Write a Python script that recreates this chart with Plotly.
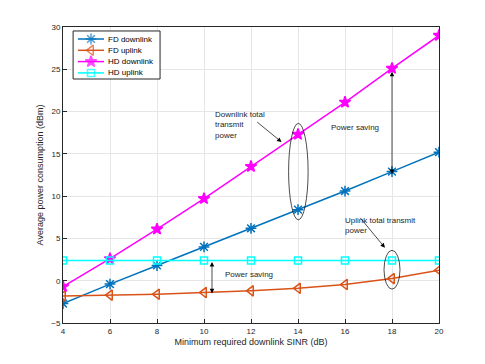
import plotly.graph_objects as go

sinr = [4, 6, 8, 10, 12, 14, 16, 18, 20]
fd_downlink = [-2.7, -0.4, 1.8, 4.0, 6.2, 8.4, 10.6, 12.9, 15.2]
fd_uplink = [-1.8, -1.7, -1.6, -1.4, -1.2, -0.9, -0.45, 0.25, 1.25]
hd_downlink = [-0.7, 2.6, 6.1, 9.7, 13.5, 17.3, 21.1, 25.1, 29.0]
hd_uplink = [2.4, 2.4, 2.4, 2.4, 2.4, 2.4, 2.4, 2.4, 2.4]

FONT = "Liberation Sans, Arial, sans-serif"
TXT = "#262626"

series = [
    ("FD downlink", fd_downlink, "#0072BD", "asterisk-open", 9),
    ("FD uplink", fd_uplink, "#D95319", "triangle-left-open", 9),
    ("HD downlink", hd_downlink, "#FF00FF", "star", 8.5),
    ("HD uplink", hd_uplink, "#00FFFF", "square-open", 7),
]

fig = go.Figure()
for name, vals, color, symbol, size in series:
    fig.add_trace(go.Scatter(
        x=sinr, y=vals, name=name, mode="lines+markers", showlegend=False,
        line=dict(color=color, width=1.5),
        marker=dict(symbol=symbol, size=size, color=color,
                    line=dict(color=color, width=1.5)),
    ))

# hand-drawn legend (box on main axes, samples on a hidden overlay axis in plot pixels)
fig.add_shape(type="rect", xref="x", yref="y", x0=4.43, x1=8.13, y0=23.85, y1=29.53,
              line=dict(color=TXT, width=1), fillcolor="white", layer="between")
for i, (name, vals, color, symbol, size) in enumerate(series):
    ry = 39 + i * 11.3
    fig.add_trace(go.Scatter(
        x=[78, 91, 104], y=[ry, ry, ry], xaxis="x2", yaxis="y2", showlegend=False,
        mode="lines+markers", hoverinfo="skip",
        line=dict(color=color, width=1.5),
        marker=dict(symbol=symbol, size=[0, size, 0], color=color,
                    line=dict(color=color, width=1.5)),
    ))
    fig.add_annotation(x=106, y=ry, xref="x2", yref="y2", text=name, showarrow=False,
                       xanchor="left", yanchor="middle",
                       font=dict(family=FONT, size=8, color="black"))

# ellipses
fig.add_shape(type="circle", xref="x", yref="y", x0=13.6, x1=14.43, y0=7.2, y1=18.6,
              line=dict(color="black", width=0.7))
fig.add_shape(type="circle", xref="x", yref="y", x0=17.66, x1=18.34, y0=-1.0, y1=3.6,
              line=dict(color="black", width=0.7))

ann_font = dict(family=FONT, size=8, color=TXT)
fig.add_annotation(x=10.4, y=18.4, xref="x", yref="y", text="Downlink total<br>transmit<br>power",
                   showarrow=False, xanchor="left", yanchor="middle", align="left", font=ann_font)
fig.add_annotation(x=15.3, y=18.1, xref="x", yref="y", text="Power saving",
                   showarrow=False, xanchor="left", yanchor="middle", font=ann_font)
fig.add_annotation(x=15.9, y=6.5, xref="x", yref="y", text="Uplink total transmit<br>power",
                   showarrow=False, xanchor="left", yanchor="middle", align="left", font=ann_font)
fig.add_annotation(x=10.8, y=0.7, xref="x", yref="y", text="Power saving",
                   showarrow=False, xanchor="left", yanchor="middle", font=ann_font)

# pointer arrows
fig.add_annotation(x=13.3, y=16.4, ax=12.2, ay=18.9, xref="x", yref="y", axref="x", ayref="y",
                   text="", showarrow=True, arrowhead=2, arrowsize=1.3, arrowwidth=0.7, arrowcolor="black")
fig.add_annotation(x=17.7, y=3.9, ax=16.6, ay=7.6, xref="x", yref="y", axref="x", ayref="y",
                   text="", showarrow=True, arrowhead=2, arrowsize=1.3, arrowwidth=0.7, arrowcolor="black")
# double arrows
fig.add_annotation(x=18, y=12.6, ax=18, ay=24.9, xref="x", yref="y", axref="x", ayref="y",
                   text="", showarrow=True, arrowhead=2, startarrowhead=2, arrowside="end+start",
                   arrowsize=1.3, startarrowsize=1.3, arrowwidth=0.7, arrowcolor="black")
fig.add_annotation(x=10.34, y=-1.5, ax=10.34, ay=2.4, xref="x", yref="y", axref="x", ayref="y",
                   text="", showarrow=True, arrowhead=2, startarrowhead=2, arrowside="end+start",
                   arrowsize=1.3, startarrowsize=1.3, arrowwidth=0.7, arrowcolor="black")

axis_common = dict(
    showgrid=True, gridcolor="#E6E6E6", gridwidth=1, zeroline=False,
    showline=True, linecolor="#262626", linewidth=1, mirror=True,
    ticks="inside", ticklen=4, tickcolor="#262626",
    tickfont=dict(family=FONT, size=8, color=TXT),
)
fig.update_xaxes(range=[4, 20], tickvals=sinr,
                 title=dict(text="Minimum required downlink SINR (dB)", standoff=4,
                            font=dict(family=FONT, size=9, color=TXT)),
                 **axis_common)
fig.update_yaxes(range=[-5, 30], tickvals=[-5, 0, 5, 10, 15, 20, 25, 30],
                 title=dict(text="Average power consumption (dBm)", standoff=6,
                            font=dict(family=FONT, size=9, color=TXT)),
                 **axis_common)

fig.update_layout(
    width=485, height=364,
    margin=dict(l=63, r=46, t=27, b=41),
    paper_bgcolor="white", plot_bgcolor="white",
    showlegend=False,
    xaxis2=dict(overlaying="x", range=[63, 439], visible=False, fixedrange=True),
    yaxis2=dict(overlaying="y", range=[323, 27], visible=False, fixedrange=True),
)

fig.write_html("out.html", config={"displayModeBar": False},
               post_script="document.body.style.margin='0';")
